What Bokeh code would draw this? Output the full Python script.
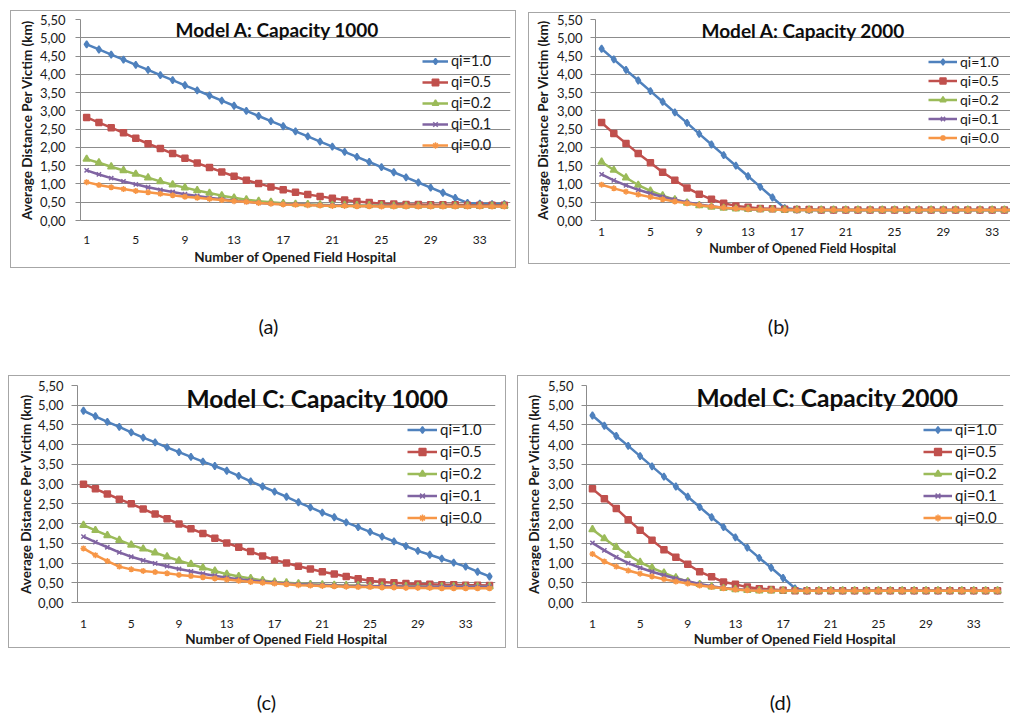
from bokeh.plotting import figure
from bokeh.layouts import row, column
from bokeh.models import (FixedTicker, CustomJSTickFormatter, Range1d, Legend,
                          LegendItem, Label)
from bokeh.core.properties import value
from bokeh.embed import file_html
from bokeh.resources import INLINE

# ---------------- data ----------------
hospitals = list(range(1, 36))
x_tick_values = [1, 5, 9, 13, 17, 21, 25, 29, 33]
y_tick_values = [0.0, 0.5, 1.0, 1.5, 2.0, 2.5, 3.0, 3.5, 4.0, 4.5, 5.0, 5.5]
series_labels = ["qi=1.0", "qi=0.5", "qi=0.2", "qi=0.1", "qi=0.0"]
panel_titles = ["Model A: Capacity 1000", "Model A: Capacity 2000",
                "Model C: Capacity 1000", "Model C: Capacity 2000"]
panel_captions = ["(a)", "(b)", "(c)", "(d)"]

# Model A, capacity 1000
a1_q10 = [4.82, 4.68, 4.54, 4.40, 4.26,
          4.12, 3.98, 3.84, 3.70, 3.56,
          3.42, 3.28, 3.14, 3.00, 2.86,
          2.72, 2.58, 2.44, 2.30, 2.16,
          2.02, 1.88, 1.74, 1.60, 1.46,
          1.32, 1.18, 1.04, 0.90, 0.76,
          0.62, 0.48, 0.46, 0.45, 0.45]
a1_q05 = [2.82, 2.68, 2.54, 2.40, 2.25,
          2.10, 1.97, 1.83, 1.70, 1.57,
          1.45, 1.33, 1.21, 1.10, 1.01,
          0.92, 0.84, 0.77, 0.71, 0.66,
          0.61, 0.56, 0.52, 0.49, 0.46,
          0.45, 0.44, 0.44, 0.43, 0.43,
          0.43, 0.42, 0.42, 0.42, 0.42]
a1_q02 = [1.68, 1.58, 1.47, 1.37, 1.27,
          1.17, 1.07, 0.98, 0.90, 0.82,
          0.75, 0.68, 0.62, 0.57, 0.53,
          0.50, 0.47, 0.45, 0.44, 0.43,
          0.42, 0.42, 0.41, 0.41, 0.41,
          0.40, 0.40, 0.40, 0.40, 0.40,
          0.40, 0.40, 0.40, 0.40, 0.40]
a1_q01 = [1.37, 1.26, 1.16, 1.07, 0.99,
          0.91, 0.84, 0.78, 0.72, 0.67,
          0.62, 0.58, 0.54, 0.51, 0.48,
          0.46, 0.45, 0.44, 0.43, 0.42,
          0.41, 0.41, 0.40, 0.40, 0.40,
          0.40, 0.39, 0.39, 0.39, 0.39,
          0.39, 0.39, 0.39, 0.39, 0.39]
a1_q00 = [1.05, 0.97, 0.91, 0.86, 0.81,
          0.77, 0.73, 0.69, 0.65, 0.62,
          0.59, 0.56, 0.53, 0.51, 0.48,
          0.46, 0.44, 0.43, 0.42, 0.41,
          0.40, 0.40, 0.39, 0.39, 0.38,
          0.38, 0.38, 0.38, 0.38, 0.38,
          0.38, 0.38, 0.38, 0.38, 0.38]

# Model A, capacity 2000
a2_q10 = [4.70, 4.41, 4.12, 3.83, 3.54,
          3.25, 2.96, 2.67, 2.37, 2.08,
          1.79, 1.50, 1.21, 0.92, 0.63,
          0.34, 0.30, 0.29, 0.29, 0.29,
          0.29, 0.29, 0.29, 0.29, 0.29,
          0.29, 0.29, 0.29, 0.29, 0.29,
          0.29, 0.29, 0.29, 0.29, 0.29]
a2_q05 = [2.68, 2.38, 2.11, 1.83, 1.58,
          1.32, 1.10, 0.89, 0.72, 0.58,
          0.47, 0.40, 0.36, 0.33, 0.32,
          0.31, 0.30, 0.30, 0.29, 0.29,
          0.29, 0.29, 0.29, 0.29, 0.29,
          0.29, 0.29, 0.29, 0.29, 0.29,
          0.29, 0.29, 0.29, 0.29, 0.29]
a2_q02 = [1.60, 1.38, 1.17, 0.97, 0.81,
          0.68, 0.57, 0.48, 0.41, 0.37,
          0.34, 0.32, 0.31, 0.30, 0.30,
          0.29, 0.29, 0.29, 0.29, 0.29,
          0.29, 0.29, 0.29, 0.29, 0.29,
          0.29, 0.29, 0.29, 0.29, 0.29,
          0.29, 0.29, 0.29, 0.29, 0.29]
a2_q01 = [1.26, 1.10, 0.96, 0.84, 0.74,
          0.65, 0.57, 0.50, 0.44, 0.39,
          0.35, 0.33, 0.31, 0.30, 0.30,
          0.29, 0.29, 0.29, 0.29, 0.29,
          0.29, 0.29, 0.29, 0.29, 0.29,
          0.29, 0.29, 0.29, 0.29, 0.29,
          0.29, 0.29, 0.29, 0.29, 0.29]
a2_q00 = [0.98, 0.88, 0.79, 0.71, 0.64,
          0.58, 0.52, 0.47, 0.42, 0.38,
          0.35, 0.33, 0.31, 0.30, 0.30,
          0.29, 0.29, 0.29, 0.29, 0.29,
          0.29, 0.29, 0.29, 0.29, 0.29,
          0.29, 0.29, 0.29, 0.29, 0.29,
          0.29, 0.29, 0.29, 0.29, 0.29]

# Model C, capacity 1000
c1_q10 = [4.86, 4.72, 4.58, 4.45, 4.31,
          4.18, 4.06, 3.93, 3.81, 3.69,
          3.57, 3.46, 3.34, 3.21, 3.07,
          2.94, 2.81, 2.68, 2.54, 2.41,
          2.28, 2.16, 2.03, 1.91, 1.79,
          1.67, 1.55, 1.43, 1.31, 1.21,
          1.11, 1.01, 0.91, 0.78, 0.66]
c1_q05 = [3.00, 2.88, 2.75, 2.62, 2.50,
          2.37, 2.24, 2.12, 1.99, 1.87,
          1.75, 1.63, 1.51, 1.40, 1.29,
          1.18, 1.08, 1.00, 0.92, 0.85,
          0.78, 0.72, 0.66, 0.60, 0.55,
          0.52, 0.50, 0.48, 0.47, 0.46,
          0.45, 0.45, 0.44, 0.44, 0.43]
c1_q02 = [1.96, 1.83, 1.70, 1.58, 1.46,
          1.36, 1.26, 1.16, 1.06, 0.97,
          0.88, 0.80, 0.72, 0.66, 0.61,
          0.56, 0.52, 0.50, 0.48, 0.46,
          0.45, 0.44, 0.43, 0.43, 0.42,
          0.42, 0.41, 0.41, 0.41, 0.40,
          0.40, 0.40, 0.40, 0.40, 0.40]
c1_q01 = [1.67, 1.53, 1.40, 1.27, 1.16,
          1.07, 0.99, 0.92, 0.85, 0.79,
          0.73, 0.68, 0.63, 0.59, 0.56,
          0.53, 0.50, 0.48, 0.46, 0.45,
          0.44, 0.43, 0.42, 0.42, 0.41,
          0.41, 0.41, 0.40, 0.40, 0.40,
          0.40, 0.40, 0.40, 0.40, 0.40]
c1_q00 = [1.37, 1.20, 1.05, 0.91, 0.84,
          0.80, 0.77, 0.74, 0.70, 0.67,
          0.64, 0.61, 0.58, 0.55, 0.52,
          0.50, 0.48, 0.46, 0.44, 0.43,
          0.42, 0.41, 0.40, 0.39, 0.39,
          0.38, 0.38, 0.37, 0.37, 0.37,
          0.36, 0.36, 0.36, 0.36, 0.36]

# Model C, capacity 2000
c2_q10 = [4.74, 4.48, 4.22, 3.97, 3.71,
          3.45, 3.19, 2.94, 2.68, 2.42,
          2.16, 1.91, 1.65, 1.39, 1.13,
          0.88, 0.62, 0.36, 0.30, 0.30,
          0.30, 0.30, 0.30, 0.30, 0.30,
          0.30, 0.30, 0.30, 0.30, 0.30,
          0.30, 0.30, 0.30, 0.30, 0.30]
c2_q05 = [2.88, 2.63, 2.38, 2.10, 1.83,
          1.58, 1.34, 1.15, 0.97, 0.78,
          0.65, 0.52, 0.46, 0.39, 0.35,
          0.33, 0.31, 0.30, 0.30, 0.30,
          0.30, 0.30, 0.30, 0.30, 0.30,
          0.30, 0.30, 0.30, 0.30, 0.30,
          0.30, 0.30, 0.30, 0.30, 0.30]
c2_q02 = [1.85, 1.62, 1.40, 1.20, 1.02,
          0.88, 0.75, 0.63, 0.53, 0.46,
          0.40, 0.36, 0.33, 0.31, 0.30,
          0.30, 0.30, 0.30, 0.30, 0.30,
          0.30, 0.30, 0.30, 0.30, 0.30,
          0.30, 0.30, 0.30, 0.30, 0.30,
          0.30, 0.30, 0.30, 0.30, 0.30]
c2_q01 = [1.51, 1.32, 1.15, 1.00, 0.88,
          0.78, 0.69, 0.61, 0.54, 0.47,
          0.41, 0.37, 0.34, 0.32, 0.31,
          0.30, 0.30, 0.30, 0.30, 0.30,
          0.30, 0.30, 0.30, 0.30, 0.30,
          0.30, 0.30, 0.30, 0.30, 0.30,
          0.30, 0.30, 0.30, 0.30, 0.30]
c2_q00 = [1.23, 1.04, 0.91, 0.81, 0.73,
          0.66, 0.59, 0.53, 0.48, 0.43,
          0.39, 0.36, 0.33, 0.31, 0.30,
          0.30, 0.30, 0.30, 0.30, 0.30,
          0.30, 0.30, 0.30, 0.30, 0.30,
          0.30, 0.30, 0.30, 0.30, 0.30,
          0.30, 0.30, 0.30, 0.30, 0.30]

# ---------------- styling ----------------
COLORS = ["#4F81BD", "#C0504D", "#9BBB59", "#8064A2", "#F79646"]
MARKERS = ["diamond", "square", "triangle", "x", "asterisk"]
MSIZES = [7, 6, 7, 6, 6]
FONT = "Lato"
GRID = "#8c8c8c"
BORDER = "#a6a6a6"
TXT = "#1a1a1a"


def border_css(lines):
    """lines: list of (x, y, w, h) rectangles (1px lines) in canvas px."""
    layers = [f"linear-gradient({BORDER}, {BORDER}) {x}px {y}px / {w}px {h}px no-repeat"
              for (x, y, w, h) in lines]
    return {"background": ", ".join(layers)}


def panel(cfg, title, series):
    W, H = cfg["W"], cfg["H"]
    ox, oy = cfg["origin"]
    fl, fr, ft, fb = [v - o for v, o in zip(cfg["frame"], (ox, ox, oy, oy))]
    p = figure(width=W, height=H, output_backend="svg", toolbar_location=None,
               x_range=Range1d(0.5, cfg["x_end"]), y_range=Range1d(0, 5.5),
               min_border_left=fl, min_border_right=W - fr,
               min_border_top=ft, min_border_bottom=H - fb,
               background_fill_color="white", border_fill_color=None,
               styles=border_css(cfg["border"]))
    p.outline_line_color = None

    p.xaxis.ticker = FixedTicker(ticks=x_tick_values)
    p.xaxis.major_tick_out = 0
    p.xaxis.major_tick_in = 0
    p.xaxis.minor_tick_line_color = None
    p.xaxis.axis_line_color = GRID
    p.xaxis.major_label_text_font = FONT
    p.xaxis.major_label_text_font_size = "12px"
    p.xaxis.major_label_text_color = TXT
    p.xaxis.major_label_standoff = cfg["xtick_so"]
    p.xaxis.axis_label = "Number of Opened Field Hospital"
    p.xaxis.axis_label_text_font = FONT
    p.xaxis.axis_label_text_font_style = "bold"
    p.xaxis.axis_label_text_font_size = cfg["xlab_fs"]
    p.xaxis.axis_label_text_color = TXT
    p.xaxis.axis_label_standoff = cfg["xlab_so"]

    p.yaxis.ticker = FixedTicker(ticks=y_tick_values)
    p.yaxis.formatter = CustomJSTickFormatter(code="return tick.toFixed(2).replace('.', ',');")
    p.yaxis.major_tick_out = cfg["ytick_out"]
    p.yaxis.major_tick_in = 0
    p.yaxis.minor_tick_line_color = None
    p.yaxis.axis_line_color = GRID
    p.yaxis.major_tick_line_color = GRID
    p.yaxis.major_label_text_font = FONT
    p.yaxis.major_label_text_font_size = "13px"
    p.yaxis.major_label_text_color = TXT
    p.yaxis.major_label_standoff = cfg["ytick_so"]
    p.yaxis.axis_label = "Average Distance Per Victim (km)"
    p.yaxis.axis_label_text_font = FONT
    p.yaxis.axis_label_text_font_style = "bold"
    p.yaxis.axis_label_text_font_size = "13.5px"
    p.yaxis.axis_label_text_color = TXT
    p.yaxis.axis_label_standoff = cfg["ylab_so"]

    p.xgrid.grid_line_color = None
    p.ygrid.ticker = FixedTicker(ticks=y_tick_values)
    p.ygrid.grid_line_color = GRID
    p.ygrid.grid_line_width = 1

    items = []
    for k, ys in enumerate(series):
        ln = p.line(hospitals, ys, line_color=COLORS[k], line_width=2.5)
        sc = p.scatter(hospitals, ys, marker=MARKERS[k], size=MSIZES[k],
                       fill_color=COLORS[k], line_color=COLORS[k], line_width=1.5)
        items.append(LegendItem(label=series_labels[k], renderers=[ln, sc]))

    lx, ly = cfg["legend_pos"]
    leg = Legend(items=items, location=(lx - ox - fl, fb - (ly - oy)),
                 orientation="vertical", padding=0, margin=0,
                 spacing=cfg["leg_spacing"], label_height=cfg["leg_h"],
                 glyph_height=cfg["leg_h"], glyph_width=cfg["glyph_w"],
                 label_standoff=3,
                 label_text_font=FONT, label_text_font_size=cfg["leg_fs"],
                 label_text_color=TXT,
                 border_line_color=None, background_fill_alpha=0)
    p.add_layout(leg)

    tx, ty = cfg["title_c"]
    p.add_layout(Label(x=tx - ox - fl, y=fb - (ty - oy), x_units="screen", y_units="screen",
                       text=title, text_align="center", text_baseline="middle",
                       text_font=FONT, text_font_style="bold",
                       text_font_size=cfg["title_fs"], text_color="#0d0d0d"))
    return p


def caption_strip(W, H, xs, ys, texts):
    p = figure(width=W, height=H, output_backend="svg", toolbar_location=None,
               x_range=Range1d(0, W), y_range=Range1d(0, H),
               x_axis_location=None, y_axis_location=None,
               min_border=0, min_border_left=0, min_border_right=0,
               min_border_top=0, min_border_bottom=0,
               background_fill_color=None, border_fill_color=None)
    p.outline_line_color = None
    p.grid.visible = False
    p.text(x=xs, y=ys, text=texts, text_align="center", text_baseline="middle",
           text_font=value(FONT), text_font_size=value("20px"), text_color="#111111")
    return p


# geometry, in page pixels (origin = top-left of each figure)
cfg_a = dict(W=520, H=275, origin=(0, 0), frame=(80, 510, 19, 222), x_end=35.5,
             border=[(10, 10, 1, 258), (10, 10, 506, 1), (515, 10, 1, 258), (10, 267, 506, 1)],
             title_fs="19px", title_c=(277, 31),
             legend_pos=(422, 155), leg_spacing=4, leg_h=16, glyph_w=26, leg_fs="14.5px",
             xtick_so=15, xlab_fs="13.5px", xlab_so=2,
             ytick_so=10, ytick_out=5, ylab_so=2)
cfg_b = dict(W=490, H=275, origin=(520, 0), frame=(595, 1010, 19, 220), x_end=34.5,
             border=[(8, 12, 1, 252), (8, 12, 482, 1), (8, 263, 482, 1)],
             title_fs="19px", title_c=(803, 30),
             legend_pos=(928, 146), leg_spacing=2, leg_h=15, glyph_w=29, leg_fs="14px",
             xtick_so=7, xlab_fs="12.5px", xlab_so=2,
             ytick_so=8, ytick_out=5, ylab_so=3)
cfg_c = dict(W=512, H=285, origin=(0, 375), frame=(77, 495, 385, 602), x_end=35.5,
             border=[(8, 0, 1, 273), (8, 0, 498, 1), (505, 0, 1, 273), (8, 272, 498, 1)],
             title_fs="24.5px", title_c=(317, 398),
             legend_pos=(407, 526), leg_spacing=4, leg_h=17, glyph_w=30, leg_fs="15px",
             xtick_so=17, xlab_fs="13.5px", xlab_so=0,
             ytick_so=8, ytick_out=6, ylab_so=1)
cfg_d = dict(W=498, H=285, origin=(512, 375), frame=(586, 1003, 385, 603), x_end=35.5,
             border=[(5, 0, 1, 273), (5, 0, 493, 1), (5, 272, 493, 1)],
             title_fs="24.5px", title_c=(827, 398),
             legend_pos=(923, 527), leg_spacing=4, leg_h=17, glyph_w=29, leg_fs="15px",
             xtick_so=17, xlab_fs="13.5px", xlab_so=0,
             ytick_so=8, ytick_out=5, ylab_so=3)

pa = panel(cfg_a, panel_titles[0], [a1_q10, a1_q05, a1_q02, a1_q01, a1_q00])
pb = panel(cfg_b, panel_titles[1], [a2_q10, a2_q05, a2_q02, a2_q01, a2_q00])
pc = panel(cfg_c, panel_titles[2], [c1_q10, c1_q05, c1_q02, c1_q01, c1_q00])
pd_ = panel(cfg_d, panel_titles[3], [c2_q10, c2_q05, c2_q02, c2_q01, c2_q00])

# caption strips: strip 1 spans page y 275..375, strip 2 spans 660..718
cap1 = caption_strip(1010, 100, [268, 778], [50, 50], panel_captions[0:2])
cap2 = caption_strip(1010, 58, [266, 780], [17, 17], panel_captions[2:4])

layout = column(row(pa, pb, spacing=0), cap1, row(pc, pd_, spacing=0), cap2, spacing=0)

with open("out.html", "w") as f:
    f.write(file_html(layout, INLINE))
